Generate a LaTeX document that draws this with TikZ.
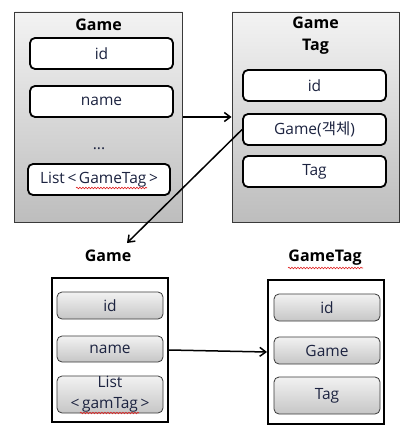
\documentclass[tikz,border=0pt]{standalone}
\usepackage{fontspec}
\setmainfont{Open Sans}
\newfontfamily\krfont{Noto Sans CJK KR}
\usetikzlibrary{arrows.meta,decorations.pathmorphing}
\definecolor{Ink}{HTML}{1C2340}
\definecolor{PanelTop}{HTML}{F3F3F3}
\definecolor{PanelBot}{HTML}{BDBDBD}
\definecolor{KeyTop}{HTML}{F2F2F2}
\definecolor{KeyBot}{HTML}{C6C6C6}
\definecolor{Edge}{HTML}{3A3A3A}
\definecolor{Spell}{HTML}{E02020}

\begin{document}
\begin{tikzpicture}[
  x=1pt,
  y=-1pt,
  panel/.style={draw=Edge,line width=0.9pt,top color=PanelTop,bottom color=PanelBot,minimum width=168pt,minimum height=210pt,inner sep=0pt},
  frame/.style={draw=black,line width=2pt,fill=white,minimum width=116pt,minimum height=144pt,inner sep=0pt},
  title/.style={font=\bfseries\fontsize{16}{22}\selectfont,align=center},
  field/.style={draw=black,line width=1.8pt,fill=white,rounded corners=5pt,minimum width=143pt,minimum height=31pt,inner sep=0pt,font=\fontsize{15.5}{18}\selectfont,text=Ink},
  key/.style={draw=Edge,line width=0.8pt,top color=KeyTop,bottom color=KeyBot,rounded corners=5pt,minimum width=106pt,minimum height=27pt,inner sep=0pt,font=\fontsize{15.5}{21}\selectfont,text=Ink,align=center},
  link/.style={-{Straight Barb[length=6pt,width=9pt]},line width=1.5pt},
  squiggle/.style={Spell,line width=0.6pt,decorate,decoration={snake,amplitude=0.8pt,segment length=3pt}}
]
  \useasboundingbox (0,0) rectangle (418,438);

  % Top left: Game
  \node[panel] (gameTop) at (98.5,117) {};
  \node[title] (gameTopTitle) at (98.5,25) {Game};
  \node[field] (gameId) at (101.5,53.5) {id};
  \node[field] (gameName) at (101.5,101.5) {name};
  \node[text=Ink,font=\fontsize{15.5}{18}\selectfont] (gameDots) at (99,149) {...};
  \node[field,minimum width=142pt] (gameList) at (99,179.5) {List\,<\,GameTag\,>};
  \draw[squiggle] (76,188) -- (147,188);

  % Top right: GameTag
  \node[panel,minimum width=167pt] (tagTop) at (315.5,117) {};
  \node[title] (tagTopTitle) at (315.5,36) {Game\\Tag};
  \node[field] (tagId) at (314.5,85.5) {id};
  \node[field] (tagObj) at (314.5,129.5) {Game({\krfont 객체})};
  \node[field] (tagTag) at (314.5,171.5) {Tag};

  \draw[link] (gameTop.east) -- (tagTop.west);
  \coordinate (gameHead) at (127,243);
  \draw[link] (tagObj.west) -- (gameHead);

  % Bottom left: Game table
  \node[title] (gameBotTitle) at (108,256) {Game};
  \node[frame] (gameBot) at (110,350) {};
  \node[key] (rowId) at (110,305.5) {id};
  \node[key,minimum height=26pt] (rowName) at (110,349) {name};
  \node[key,minimum height=37pt] (rowList) at (110,394.5) {List\\<\,gamTag\,>};
  \draw[squiggle] (80,413) -- (139,413);

  % Bottom right: GameTag table
  \node[title] (tagBotTitle) at (325,258) {GameTag};
  \draw[squiggle] (288,268) -- (363,268);
  \node[frame] (tagBot) at (326,352) {};
  \node[key] (colId) at (327,307.5) {id};
  \node[key] (colGame) at (327,350.5) {Game};
  \node[key,minimum height=37pt] (colTag) at (327,395.5) {Tag};

  \draw[link] (gameBot.east) -- (tagBot.west);
\end{tikzpicture}
\end{document}
